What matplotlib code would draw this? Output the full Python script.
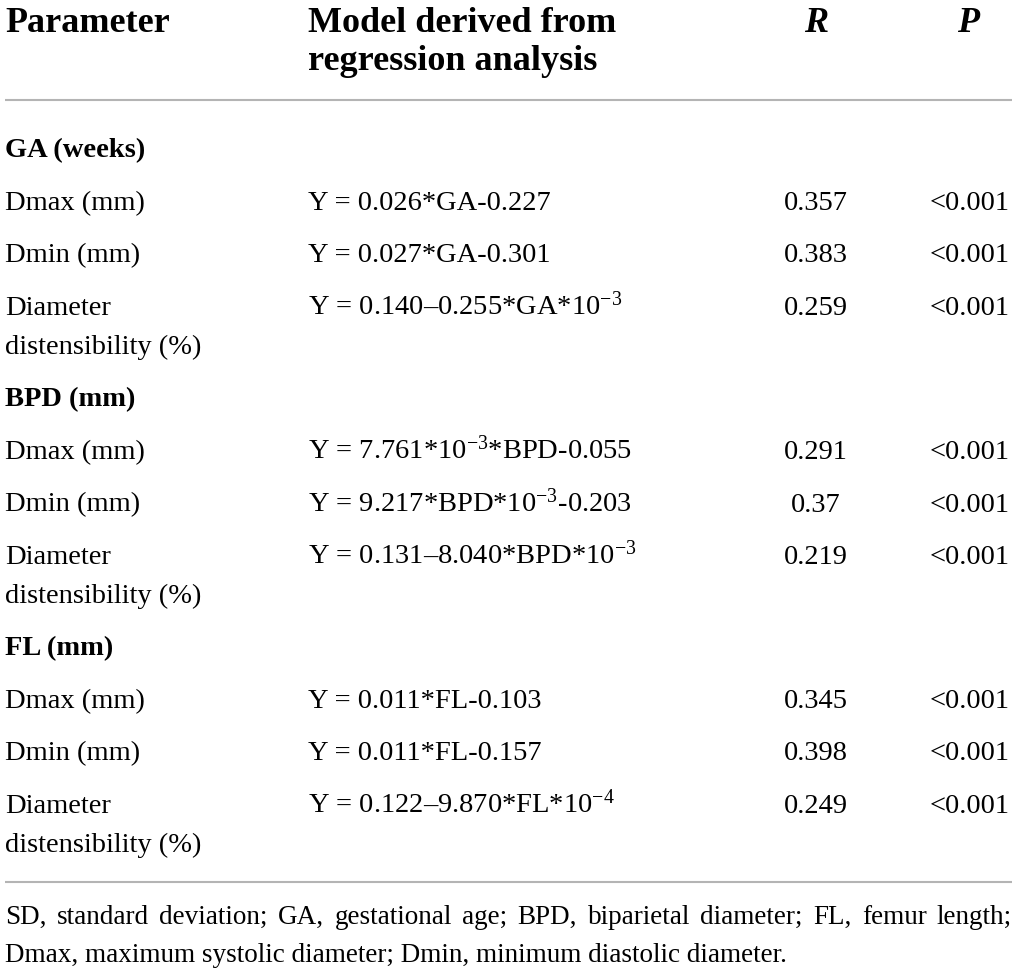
import matplotlib
matplotlib.use("Agg")
import matplotlib.pyplot as plt

plt.rcParams['font.family'] = ['Liberation Serif', 'DejaVu Serif']
plt.rcParams['mathtext.fontset'] = 'custom'
plt.rcParams['mathtext.rm'] = 'Liberation Serif'
plt.rcParams['mathtext.it'] = 'Liberation Serif:italic'
plt.rcParams['mathtext.bf'] = 'Liberation Serif:bold'

# ---- data ----
headers = ["Parameter", "Model derived from\nregression analysis", "R", "P"]
groups = ["GA (weeks)", "BPD (mm)", "FL (mm)"]
params = ["Dmax (mm)", "Dmin (mm)", "Diameter\ndistensibility (%)"]
models = [
    ["Y = 0.026*GA-0.227", "Y = 0.027*GA-0.301", r"Y = 0.140–0.255*GA*10$^{-3}$"],
    [r"Y = 7.761*10$^{-3}$*BPD-0.055", r"Y = 9.217*BPD*10$^{-3}$-0.203", r"Y = 0.131–8.040*BPD*10$^{-3}$"],
    ["Y = 0.011*FL-0.103", "Y = 0.011*FL-0.157", r"Y = 0.122–9.870*FL*10$^{-4}$"],
]
r_values = [["0.357", "0.383", "0.259"], ["0.291", "0.37", "0.219"], ["0.345", "0.398", "0.249"]]
p_values = [["<0.001"] * 3, ["<0.001"] * 3, ["<0.001"] * 3]
footnote_line1 = "SD, standard deviation; GA, gestational age; BPD, biparietal diameter; FL, femur length;"
footnote_line2 = "Dmax, maximum systolic diameter; Dmin, minimum diastolic diameter."

# ---- layout ----
W, H = 1017, 973
fig = plt.figure(figsize=(W / 100, H / 100), dpi=100)
ax = fig.add_axes([0, 0, 1, 1])
ax.set_xlim(0, W)
ax.set_ylim(H, 0)
ax.axis('off')

x_col1, x_col2, x_r, x_p = 5, 308, 816, 970
fs_body = 20.5
fs_group = 20.5
fs_head = 26
fs_foot = 19.5
line_gap = 39
row_gap = 52.5
dy = 9.5      # baseline offset from visual center (body)
dy_head = 12  # baseline offset for header

# header
ax.text(x_col1, 20 + dy_head, headers[0], fontsize=fs_head, fontweight='bold', va='baseline', ha='left')
h2 = headers[1].split("\n")
ax.text(x_col2, 20 + dy_head, h2[0], fontsize=fs_head, fontweight='bold', va='baseline', ha='left')
ax.text(x_col2, 58 + dy_head, h2[1], fontsize=fs_head, fontweight='bold', va='baseline', ha='left')
ax.text(x_r, 20 + dy_head, headers[2], fontsize=fs_head, fontweight='bold', style='italic', va='baseline', ha='center')
ax.text(x_p - 2, 20 + dy_head, headers[3], fontsize=fs_head, fontweight='bold', style='italic', va='baseline', ha='center')

rule_color = '#b4b4b4'
ax.plot([5, 1012], [100, 100], color=rule_color, lw=1.5, solid_capstyle='butt')

y = 148
for gi, g in enumerate(groups):
    ax.text(x_col1, y + dy, g, fontsize=fs_group, fontweight='bold', va='baseline', ha='left')
    y += row_gap
    for pi, p in enumerate(params):
        lines = p.split("\n")
        ax.text(x_col1, y + dy, lines[0], fontsize=fs_body, va='baseline', ha='left')
        ax.text(x_col2, y + dy, models[gi][pi], fontsize=fs_body, va='baseline', ha='left')
        ax.text(x_r, y + dy, r_values[gi][pi], fontsize=fs_body, va='baseline', ha='center')
        ax.text(x_p, y + dy, p_values[gi][pi], fontsize=fs_body, va='baseline', ha='center')
        if len(lines) > 1:
            y += line_gap
            ax.text(x_col1, y + dy, lines[1], fontsize=fs_body, va='baseline', ha='left')
        y += row_gap

ax.plot([5, 1012], [882, 882], color=rule_color, lw=1.5, solid_capstyle='butt')

# footnote, line 1 justified
words = footnote_line1.split(" ")
renderer = fig.canvas.get_renderer()
tmp = [ax.text(0, 0, w, fontsize=fs_foot) for w in words]
widths = []
for t in tmp:
    bb = t.get_window_extent(renderer=renderer)
    widths.append(bb.width)
    t.remove()
left, right = 5, 1012
gap = (right - left - sum(widths)) / (len(words) - 1)
xx = left
for w, wd in zip(words, widths):
    ax.text(xx, 915 + 9, w, fontsize=fs_foot, va='baseline', ha='left')
    xx += wd + gap
ax.text(left, 953 + 9, footnote_line2, fontsize=fs_foot, va='baseline', ha='left')

fig.savefig("out.png", dpi=100, facecolor='white')
